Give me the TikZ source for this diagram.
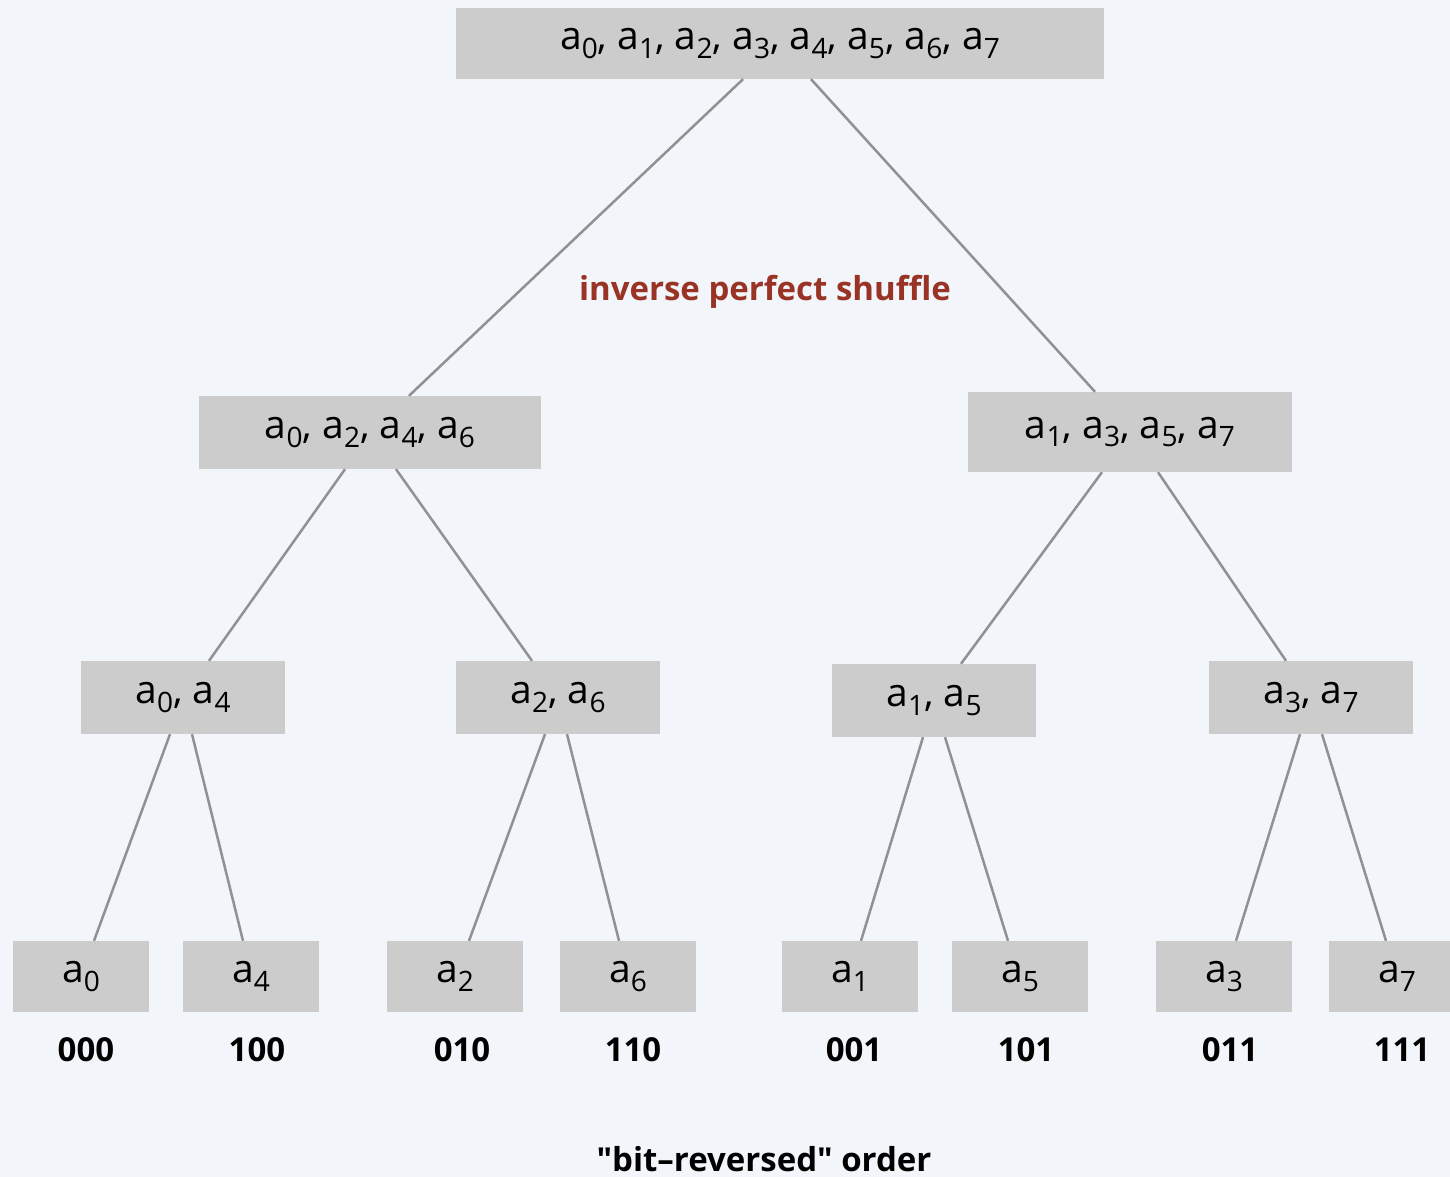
\documentclass[tikz,border=0pt]{standalone}
\usepackage{fontspec}
\setmainfont{Open Sans}[Ligatures=TeXOff]
\definecolor{bg}{HTML}{F2F5F9}
\definecolor{boxc}{HTML}{CCCCCC}
\definecolor{edgec}{HTML}{919191}
\definecolor{redc}{HTML}{993326}
\newcommand\mysubs[1]{\raisebox{-0.22em}{\scalebox{0.72}{#1}}}
\newcommand\ai[1]{a\mysubs{#1}}
\begin{document}
\begin{tikzpicture}[x=1pt,y=-1pt,
  box/.style={fill=boxc,inner sep=0pt,font=\fontsize{39}{43}\selectfont},
  leaf/.style={box,minimum width=136pt,minimum height=71pt},
  lvl/.style={box,minimum width=204pt,minimum height=73pt},
  edge/.style={draw=edgec,line width=2.5pt},
  bits/.style={font=\fontsize{33}{37}\selectfont\bfseries}]
\fill[bg] (0,0) rectangle (1450,1177);
\useasboundingbox (0,0) rectangle (1450,1177);
\node[box,minimum width=648pt,minimum height=71pt] (top) at (780,43.5) {\ai0, \ai1, \ai2, \ai3, \ai4, \ai5, \ai6, \ai7};
\node[box,minimum width=342pt,minimum height=73pt] (ml) at (370,432.5) {\ai0, \ai2, \ai4, \ai6};
\node[box,minimum width=324pt,minimum height=80pt] (mr) at (1130,432) {\ai1, \ai3, \ai5, \ai7};
\node[lvl] (la) at (183,697.5) {\ai0, \ai4};
\node[lvl] (lb) at (558,697.5) {\ai2, \ai6};
\node[lvl] (lc) at (934,700.5) {\ai1, \ai5};
\node[lvl] (ld) at (1311,697.5) {\ai3, \ai7};
\node[leaf] (f0) at (81,976.5) {\ai0};
\node[leaf] (f4) at (251,976.5) {\ai4};
\node[leaf] (f2) at (455,976.5) {\ai2};
\node[leaf] (f6) at (628,976.5) {\ai6};
\node[leaf] (f1) at (850,976.5) {\ai1};
\node[leaf] (f5) at (1020,976.5) {\ai5};
\node[leaf] (f3) at (1224,976.5) {\ai3};
\node[leaf] (f7) at (1397,976.5) {\ai7};
\node[bits] (b0) at (86,1050) {000};
\node[bits] (b4) at (257,1050) {100};
\node[bits] (b2) at (462,1050) {010};
\node[bits] (b6) at (633,1050) {110};
\node[bits] (b1) at (854,1050) {001};
\node[bits] (b5) at (1026,1050) {101};
\node[bits] (b3) at (1230,1050) {011};
\node[bits] (b7) at (1402,1050) {111};
\node[font=\fontsize{33}{37}\selectfont\bfseries,text=redc] (ips) at (765,292) {inverse perfect shuffle};
\node[font=\fontsize{33}{37}\selectfont\bfseries] (brv) at (764,1159) {"bit–reversed" order};
\draw[edge] ([xshift=-37pt]top.south) -- ([xshift=39pt]ml.north);
\draw[edge] ([xshift=31pt]top.south) -- ([xshift=-35pt]mr.north);
\draw[edge] ([xshift=-25pt]ml.south) -- ([xshift=26pt]la.north);
\draw[edge] ([xshift=26pt]ml.south) -- ([xshift=-26pt]lb.north);
\draw[edge] ([xshift=-28pt]mr.south) -- ([xshift=27pt]lc.north);
\draw[edge] ([xshift=28pt]mr.south) -- ([xshift=-25pt]ld.north);
\draw[edge] ([xshift=-13pt]la.south) -- ([xshift=13pt]f0.north);
\draw[edge] ([xshift=9pt]la.south) -- ([xshift=-8pt]f4.north);
\draw[edge] ([xshift=-13pt]lb.south) -- ([xshift=14pt]f2.north);
\draw[edge] ([xshift=9pt]lb.south) -- ([xshift=-9pt]f6.north);
\draw[edge] ([xshift=-11pt]lc.south) -- ([xshift=11pt]f1.north);
\draw[edge] ([xshift=11pt]lc.south) -- ([xshift=-12pt]f5.north);
\draw[edge] ([xshift=-11pt]ld.south) -- ([xshift=12pt]f3.north);
\draw[edge] ([xshift=11pt]ld.south) -- ([xshift=-11pt]f7.north);
\end{tikzpicture}
\end{document}
